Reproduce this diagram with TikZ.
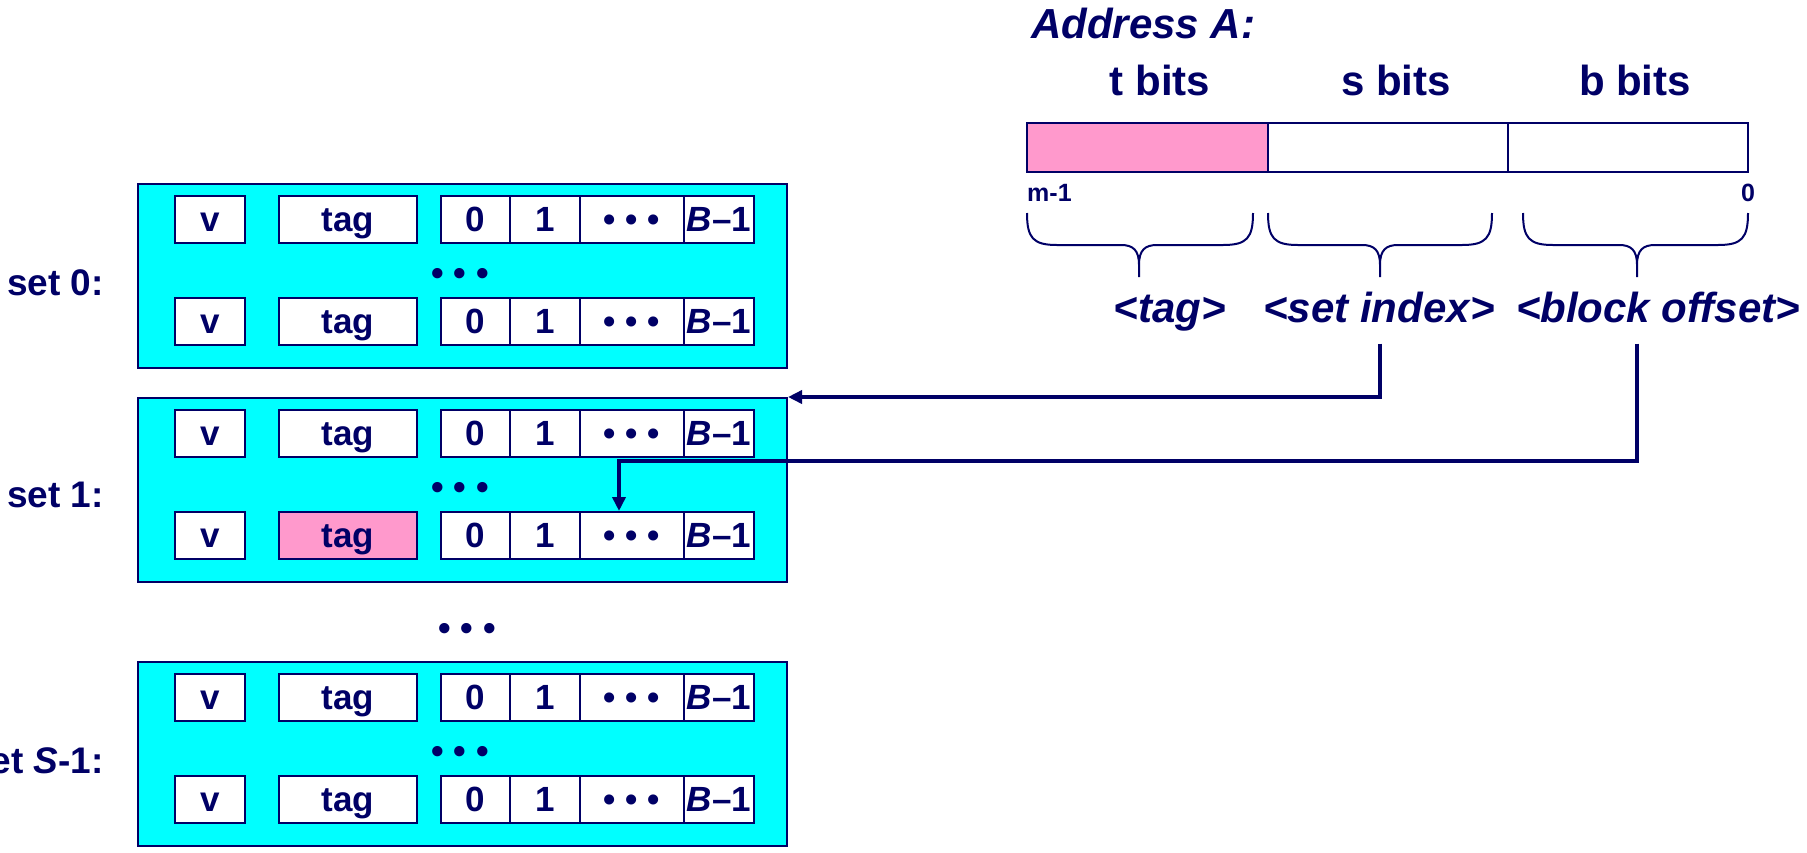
\documentclass[tikz,border=0pt]{standalone}
\usepackage{fontspec}
\setmainfont{Liberation Sans}
\usetikzlibrary{arrows.meta}
\definecolor{navy}{HTML}{000066}
\definecolor{setcyan}{HTML}{00FFFF}
\definecolor{tagpink}{HTML}{FF99CC}

\begin{document}
\begin{tikzpicture}[x=1pt,y=-1pt,
  every node/.style={text=navy,inner sep=0pt},
  setbox/.style={draw=navy,line width=2pt,fill=setcyan,minimum width=649pt,minimum height=184pt},
  cell/.style={draw=navy,line width=2pt,minimum height=47pt,text height=24pt,text depth=0pt,font=\bfseries\fontsize{35}{38}\selectfont},
  field/.style={draw=navy,line width=2pt,minimum height=49pt},
  dotrow/.style={anchor=base,font=\bfseries\fontsize{36}{40}\selectfont},
  setlbl/.style={anchor=base east,font=\bfseries\fontsize{37}{40}\selectfont},
  hdr/.style={anchor=base,font=\bfseries\fontsize{42}{48}\selectfont},
  part/.style={anchor=base,font=\bfseries\itshape\fontsize{42}{48}\selectfont},
  bitno/.style={font=\bfseries\fontsize{25}{28}\selectfont},
  brace/.style={draw=navy,line width=2pt},
  conn/.style={draw=navy,line width=4pt,-{Triangle[length=14pt,width=13pt]}}]
\useasboundingbox (0,0) rectangle (1807,852);

% the sets of the cache
\foreach \s/\top/\pk in {0/184/white,1/398/tagpink,S/662/white}{
  \node[setbox] (set\s) at (462.5,\top+92) {};
  \foreach \r/\dy/\tf in {a/35.5/white,b/137.5/\pk}{
    \node[cell,fill=white,minimum width=70pt] (v\s\r) at (210,\top+\dy) {v};
    \node[cell,fill=\tf,minimum width=138pt] (tag\s\r) at (348,\top+\dy) {tag};
    \node[cell,fill=white,minimum width=69pt] (zero\s\r) at (475.5,\top+\dy) {0};
    \node[cell,fill=white,minimum width=70pt] (one\s\r) at (545,\top+\dy) {1};
    \node[cell,fill=white,minimum width=104pt] (dots\s\r) at (632,\top+\dy) {• • •};
    \node[cell,fill=white,minimum width=70pt] (last\s\r) at (719,\top+\dy) {\textit{B}--1};
  }
  \node[dotrow] (lines\s) at (460,\top+101) {• • •};
}
\node[dotrow] (moresets) at (467,640) {• • •};

\node[setlbl] (lbl0) at (104,295) {set 0:};
\node[setlbl] (lbl1) at (104,507) {set 1:};
\node[setlbl] (lblS) at (104,773) {set \textit{S}-1:};

% the address
\node[anchor=base west,font=\bfseries\itshape\fontsize{42}{48}\selectfont] (addr) at (1031,38) {Address A:};
\node[hdr] (tbits) at (1160,95) {t bits};
\node[hdr] (sbits) at (1396,95) {s bits};
\node[hdr] (bbits) at (1635,95) {b bits};
\node[field,fill=tagpink,minimum width=241pt] (tfield) at (1147.5,147.5) {};
\node[field,fill=white,minimum width=240pt] (sfield) at (1388,147.5) {};
\node[field,fill=white,minimum width=240pt] (bfield) at (1628,147.5) {};
\node[bitno,anchor=base west] (msb) at (1027,201) {m-1};
\node[bitno,anchor=base] (lsb) at (1748,201) {0};

\foreach \n/\a/\m/\b in {t/1027/1139/1253,s/1268/1380/1492,b/1523/1637/1748}{
  \draw[brace] (\a,213) .. controls (\a,238) and (\a+6,245) .. (\a+30,245) -- (\m-18,245)
    .. controls (\m-6,245) and (\m,250) .. (\m,265) -- (\m,277)
    (\m,265) .. controls (\m,250) and (\m+6,245) .. (\m+18,245) -- (\b-30,245)
    .. controls (\b-6,245) and (\b,238) .. (\b,213);
  \coordinate (brace\n) at (\m,277);
}
\node[part] (tagl) at (1170,322) {<tag>};
\node[part] (setidx) at (1379,322) {<set index>};
\node[part] (blkoff) at (1658,322) {<block offset>};

% set index selects the set, block offset the byte
\coordinate (turn) at (619,461);
\draw[conn,shorten <=21pt] (setidx.south -| braces) |- (set1.north east);
\draw[conn,shorten <=21pt] (blkoff.south -| braceb) |- (turn) -- (turn |- dots1b.north);
\end{tikzpicture}
\end{document}
